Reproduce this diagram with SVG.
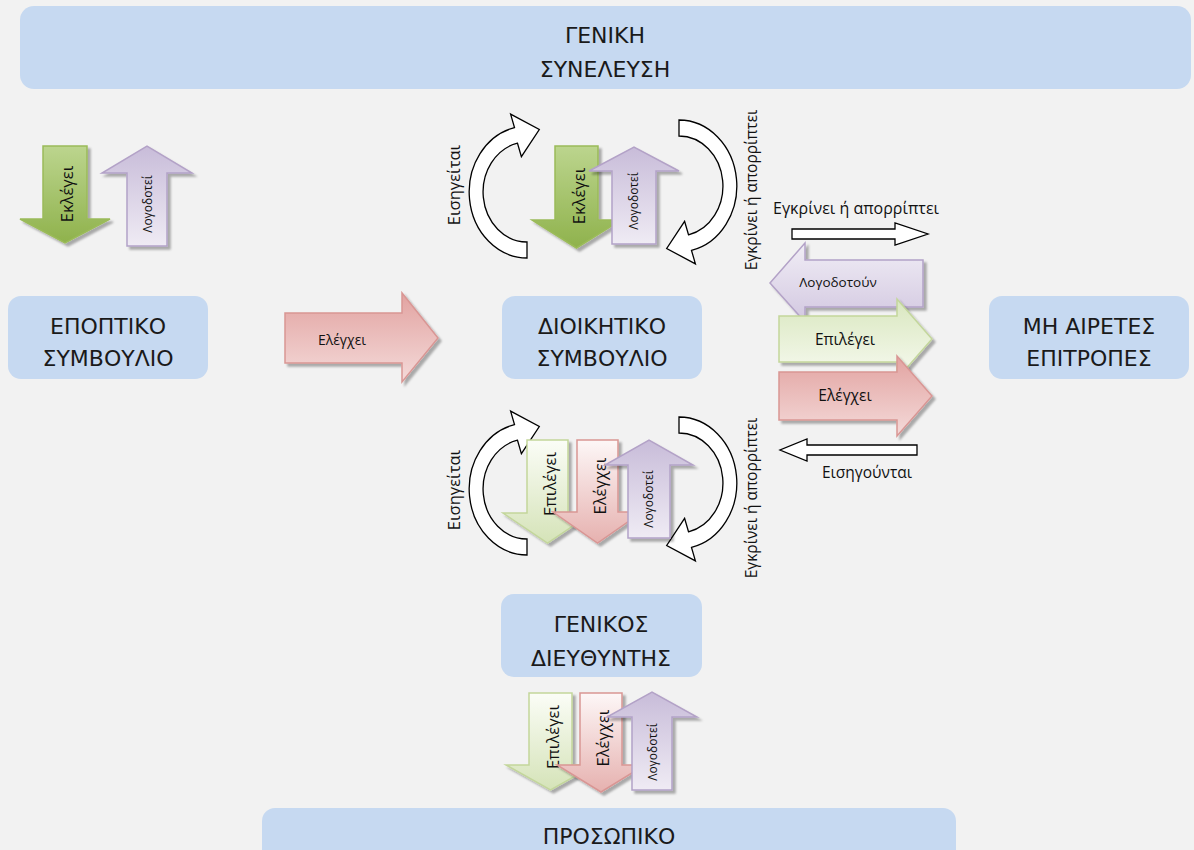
<svg xmlns="http://www.w3.org/2000/svg" width="1194" height="850" viewBox="0 0 1194 850">
<style>
.box{fill:#c6d9f1;}
.bt{font-family:"DejaVu Sans",sans-serif;font-size:22px;fill:#1a1a1a;text-anchor:middle;}
.lb{font-family:"Open Sans",sans-serif;fill:#111;text-anchor:middle;dominant-baseline:central;}
.wa{fill:#fff;stroke:#000;stroke-width:1.3;}
.sh{filter:url(#shadow);}
.gs{fill:url(#gGreen);stroke:#9bbb59;stroke-width:1.5;}
.pu{fill:url(#gPurple);stroke:#b3a2c7;stroke-width:1.5;}
.rd{fill:url(#gRed);stroke:#d99694;stroke-width:1.5;}
.gp{fill:url(#gGreenPale);stroke:#c3d69b;stroke-width:1.5;}
.gpd{fill:url(#gGreenPaleD);stroke:#c3d69b;stroke-width:1.5;}
.rpd{fill:url(#gRedPaleD);stroke:#d99694;stroke-width:1.5;}
.puh{fill:url(#gPurpleH);stroke:#b3a2c7;stroke-width:1.5;}
</style>
<defs>
<filter id="shadow" x="-20%" y="-20%" width="140%" height="140%">
<feDropShadow dx="3" dy="3" stdDeviation="1.2" flood-color="#000" flood-opacity="0.3"/>
</filter>
<linearGradient id="gGreen" x1="0" y1="0" x2="0" y2="1"><stop offset="0" stop-color="#bcd58e"/><stop offset="1" stop-color="#8fb24c"/></linearGradient>
<linearGradient id="gPurple" x1="0" y1="0" x2="0" y2="1"><stop offset="0" stop-color="#c8bcd9"/><stop offset="1" stop-color="#efebf4"/></linearGradient>
<linearGradient id="gPurpleH" x1="0" y1="0" x2="0" y2="1"><stop offset="0" stop-color="#f1eef6"/><stop offset="1" stop-color="#d2c7e0"/></linearGradient>
<linearGradient id="gRed" x1="0" y1="0" x2="0" y2="1"><stop offset="0" stop-color="#e2a3a1"/><stop offset="1" stop-color="#f4dad9"/></linearGradient>
<linearGradient id="gGreenPale" x1="0" y1="0" x2="0" y2="1"><stop offset="0" stop-color="#d9e7bf"/><stop offset="1" stop-color="#f7faf0"/></linearGradient>
<linearGradient id="gGreenPaleD" x1="0" y1="0" x2="0" y2="1"><stop offset="0" stop-color="#fbfdf7"/><stop offset="1" stop-color="#d5e3b8"/></linearGradient>
<linearGradient id="gRedPaleD" x1="0" y1="0" x2="0" y2="1"><stop offset="0" stop-color="#fdf7f7"/><stop offset="1" stop-color="#e6b1af"/></linearGradient>
<path id="curveL" class="wa" d="M527,242 L527,258 A58,66 0 0 1 514.5,127.6 L510.6,114.1 L539.3,129.5 L521.4,156.7 L517.5,143.2 A44,50 0 0 0 527,242 Z"/>
</defs>
<rect width="1194" height="850" fill="#f2f2f2"/>

<g id="node-geniki-syneleusi">
<rect class="box" x="20" y="6" width="1171" height="83" rx="14"/>
<text class="bt" x="605" y="43">ΓΕΝΙΚΗ</text>
<text class="bt" x="605" y="77">ΣΥΝΕΛΕΥΣΗ</text>
</g>
<g id="node-epoptiko">
<rect class="box" x="8" y="296" width="200" height="83" rx="13"/>
<text class="bt" x="108" y="334">ΕΠΟΠΤΙΚΟ</text>
<text class="bt" x="108" y="366">ΣΥΜΒΟΥΛΙΟ</text>
</g>
<g id="node-dioikitiko">
<rect class="box" x="502" y="296" width="200" height="83" rx="13"/>
<text class="bt" x="602" y="334">ΔΙΟΙΚΗΤΙΚΟ</text>
<text class="bt" x="602" y="366">ΣΥΜΒΟΥΛΙΟ</text>
</g>
<g id="node-mi-airetes">
<rect class="box" x="989" y="296" width="200" height="83" rx="13"/>
<text class="bt" x="1089" y="334">ΜΗ ΑΙΡΕΤΕΣ</text>
<text class="bt" x="1089" y="366">ΕΠΙΤΡΟΠΕΣ</text>
</g>
<g id="node-genikos">
<rect class="box" x="501" y="594" width="201" height="83" rx="13"/>
<text class="bt" x="601" y="632">ΓΕΝΙΚΟΣ</text>
<text class="bt" x="601" y="666">ΔΙΕΥΘΥΝΤΗΣ</text>
</g>
<g id="node-prosopiko">
<rect class="box" x="262" y="808" width="694" height="70" rx="13"/>
<text class="bt" x="609" y="844">ΠΡΟΣΩΠΙΚΟ</text>
</g>

<g id="connectors">
<g id="arrow-ekl-left">
<path class="gs sh" d="M43,146 H87 V219 H110 L65,243 L20,219 H43 Z"/>
<text class="lb" font-size="16.5" transform="translate(66,194) rotate(-90)">Εκλέγει</text>
</g>
<g id="arrow-log-left">
<path class="pu sh" d="M127,246 V173 H102 L147,146 L192,173 H167 V246 Z"/>
<text class="lb" font-size="12" transform="translate(147,204) rotate(-90)">Λογοδοτεί</text>
</g>
<g id="arrow-elegxei-left">
<path class="rd sh" d="M285,313 H402 V293 L438,338 L402,382 V363 H285 Z"/>
<text class="lb" font-size="14" x="342" y="339">Ελέγχει</text>
</g>

<g id="curve-eis-top"><use href="#curveL"/>
<text class="lb" font-size="16.5" transform="translate(453,185) rotate(-90)">Εισηγείται</text></g>
<g id="curve-egkr-top"><use href="#curveL" transform="rotate(180 603 189)"/>
<text class="lb" font-size="15.5" transform="translate(751,190) rotate(-90)">Εγκρίνει ή απορρίπτει</text></g>
<g id="arrow-ekl-mid">
<path class="gs sh" d="M555,146 H598 V220 H621 L576.5,248 L532,220 H555 Z"/>
<text class="lb" font-size="16.5" transform="translate(578,196) rotate(-90)">Εκλέγει</text>
</g>
<g id="arrow-log-mid">
<path class="pu sh" d="M612,244 V171 H589 L634,147 L679,171 H656 V244 Z"/>
<text class="lb" font-size="12" transform="translate(633,201) rotate(-90)">Λογοδοτεί</text>
</g>

<g id="curve-eis-bot"><use href="#curveL" transform="translate(0,297)"/>
<text class="lb" font-size="16.5" transform="translate(453,490) rotate(-90)">Εισηγείται</text></g>
<g id="curve-egkr-bot"><use href="#curveL" transform="translate(0,297) rotate(180 603 189)"/>
<text class="lb" font-size="15.5" transform="translate(751,498) rotate(-90)">Εγκρίνει ή απορρίπτει</text></g>
<g id="arrow-epil-mid">
<path class="gpd sh" d="M527,440 H568 V513 H592 L547.5,543 L503,513 H527 Z"/>
<text class="lb" font-size="16.5" transform="translate(549,484) rotate(-90)">Επιλέγει</text>
</g>
<g id="arrow-elegxei-mid">
<path class="rpd sh" d="M577,440 H618 V512 H642 L597.5,543 L553,512 H577 Z"/>
<text class="lb" font-size="16.5" transform="translate(599,486) rotate(-90)">Ελέγχει</text>
</g>
<g id="arrow-log-mid2">
<path class="pu sh" d="M628,538 V465 H605 L649,440 L693,465 H670 V538 Z"/>
<text class="lb" font-size="12" transform="translate(648,499) rotate(-90)">Λογοδοτεί</text>
</g>

<g id="arrow-epil-bot">
<path class="gpd sh" d="M529,693 H572 V765 H595 L550.5,790 L506,765 H529 Z"/>
<text class="lb" font-size="16.5" transform="translate(552,737) rotate(-90)">Επιλέγει</text>
</g>
<g id="arrow-elegxei-bot">
<path class="rpd sh" d="M580,693 H622 V765 H645 L601,792 L557,765 H580 Z"/>
<text class="lb" font-size="16.5" transform="translate(602,738) rotate(-90)">Ελέγχει</text>
</g>
<g id="arrow-log-bot">
<path class="pu sh" d="M632,790 V717 H607 L652,692 L697,717 H672 V790 Z"/>
<text class="lb" font-size="12" transform="translate(652,752) rotate(-90)">Λογοδοτεί</text>
</g>

<g id="arrow-egkr-right">
<path class="wa" d="M792,229 H895 V223 L928,234 L895,245 V239 H792 Z"/>
<text class="lb" font-size="16" x="856" y="208">Εγκρίνει ή απορρίπτει</text>
</g>
<g id="arrow-logodotoun">
<path class="puh sh" d="M923,260 V307 H805 V322 L770,283 L805,243 V260 Z"/>
<text class="lb" font-size="13.5" x="838" y="282">Λογοδοτούν</text>
</g>
<g id="arrow-epilegei-right">
<path class="gp sh" d="M779,316 H897 V299 L932,339 L897,379 V362 H779 Z"/>
<text class="lb" font-size="15.5" x="845" y="339">Επιλέγει</text>
</g>
<g id="arrow-elegxei-right">
<path class="rd sh" d="M779,372 H897 V356 L932,396 L897,436 V420 H779 Z"/>
<text class="lb" font-size="15.5" x="845" y="395">Ελέγχει</text>
</g>
<g id="arrow-eisigountai">
<path class="wa" d="M917,445 H807 V439 L780,450 L807,461 V455 H917 Z"/>
<text class="lb" font-size="15.5" x="867" y="472">Εισηγούνται</text>
</g>
</g>
</svg>
